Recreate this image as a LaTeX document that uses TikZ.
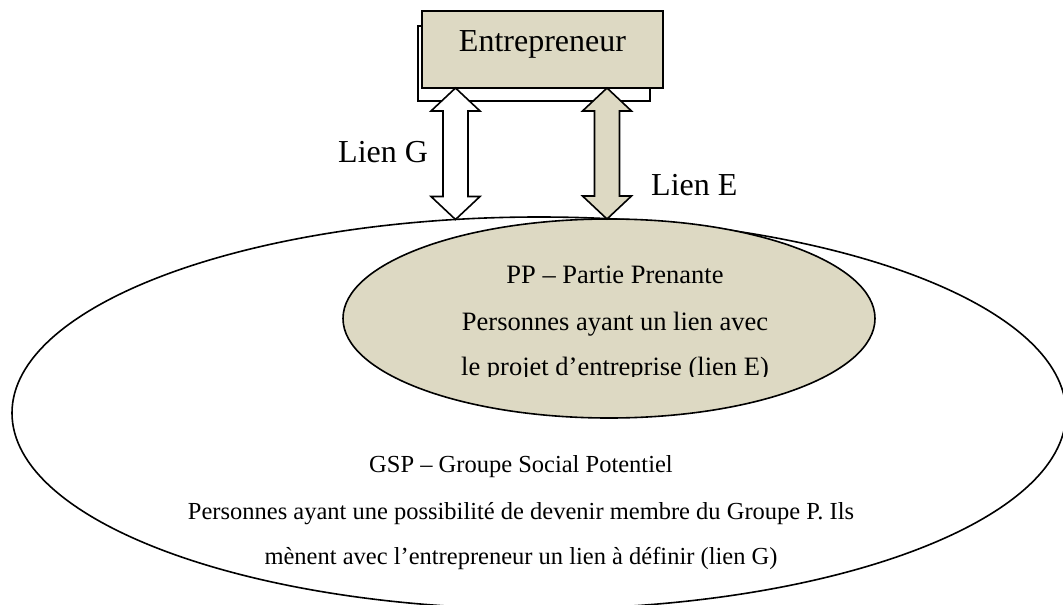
\documentclass[tikz,border=0pt]{standalone}
\usepackage{fontspec}
\setmainfont{Liberation Serif}
\usetikzlibrary{shapes.geometric,calc}
\definecolor{tanfill}{HTML}{DDD9C3}
\newcommand\dblarrow[3]{%
  \draw[#1] let \p1=(#2), \p2=(#3) in
  (\x1,\y1) -- (\x1+24.5pt,\y1-23pt) -- (\x1+12.5pt,\y1-23pt) -- (\x1+12.5pt,\y2+23pt)
  -- (\x1+24.5pt,\y2+23pt) -- (\x1,\y2) -- (\x1-24.5pt,\y2+23pt) -- (\x1-12.5pt,\y2+23pt)
  -- (\x1-12.5pt,\y1-23pt) -- (\x1-24.5pt,\y1-23pt) -- cycle;}
\begin{document}
\begin{tikzpicture}[x=1pt,y=-1pt,
  ellipsebox/.style={ellipse, draw=black, line width=1.6pt, inner sep=0pt, outer sep=0pt},
  boxfront/.style={rectangle, draw=black, line width=2.2pt, fill=tanfill, inner sep=0pt, outer sep=0pt, minimum width=241pt, minimum height=77pt},
  boxback/.style={rectangle, draw=black, line width=1.6pt, fill=white, inner sep=0pt, outer sep=0pt, minimum width=232pt, minimum height=75pt},
  bigtext/.style={font=\fontsize{32}{38}\selectfont, inner sep=0pt},
  pptext/.style={font=\fontsize{26.5}{32}\selectfont, inner sep=0pt, anchor=base},
  gsptext/.style={font=\fontsize{24.5}{30}\selectfont, inner sep=0pt, anchor=base},
  arrowG/.style={draw=black, line width=1.6pt, fill=white, line join=miter},
  arrowE/.style={draw=black, line width=1.6pt, fill=tanfill, line join=miter}
]
\useasboundingbox (0,0) rectangle (1063,605);
\clip (0,0) rectangle (1063,605);
\fill[white] (0,0) rectangle (1063,605);
% ellipses
\node[ellipsebox, fill=white, minimum width=1054pt, minimum height=392pt] (gsp) at (539,413) {};
\node[ellipsebox, fill=tanfill, minimum width=532pt, minimum height=199pt] (pp) at (609,318.5) {};
% entrepreneur box
\node[boxback] (back) at (534,63.5) {};
\node[boxfront] (box) at (542.5,49.5) {};
\node[bigtext, anchor=base] (boxlabel) at (542.5,51) {Entrepreneur};
% arrows
\coordinate (gTop) at ([xshift=33.5pt]box.south west);
\coordinate (gBot0) at (gTop |- gsp.north);
\coordinate (gBot) at ([yshift=-2.5pt]gBot0);
\coordinate (eTop) at ([xshift=185pt]box.south west);
\coordinate (eBot) at (eTop |- pp.north);
\dblarrow{arrowG}{gTop}{gBot}
\dblarrow{arrowE}{eTop}{eBot}
\node[bigtext, anchor=base west] (lienG) at (338,162) {Lien G};
\node[bigtext, anchor=base west] (lienE) at (651,195) {Lien E};
% PP text
\node[pptext] (ppA) at (615,283) {PP – Partie Prenante};
\node[pptext] (ppB) at (615,330) {Personnes ayant un lien avec};
\begin{scope}
  \clip (0,0) rectangle (1063,376.5);
  \node[pptext] (ppC) at (615,375) {le projet d’entreprise (lien E)};
\end{scope}
% GSP text
\node[gsptext] (gspA) at (521,472) {GSP – Groupe Social Potentiel};
\node[gsptext] (gspB) at (521,519) {Personnes ayant une possibilité de devenir membre du Groupe P. Ils};
\node[gsptext] (gspC) at (521,564) {mènent avec l’entrepreneur un lien à définir (lien G)};
\end{tikzpicture}
\end{document}
